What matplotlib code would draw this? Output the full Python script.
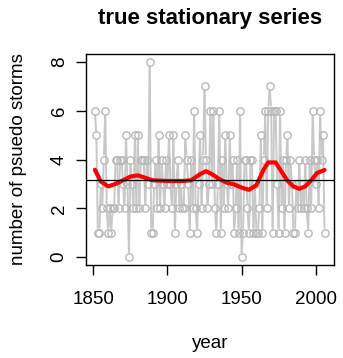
import numpy as np
import matplotlib
matplotlib.use("Agg")
import matplotlib.pyplot as plt

plt.rcParams['font.family'] = ['Liberation Sans', 'DejaVu Sans']

years = list(range(1851, 2007))
counts = [
    6, 5, 1, 1, 3, 2, 4, 6, 2, 1,   # 1851-1860
    2, 1, 2, 2, 4, 4, 2, 4, 4, 3,   # 1861-1870
    2, 5, 3, 0, 4, 3, 2, 5, 2, 5,   # 1871-1880
    2, 4, 4, 4, 2, 4, 3, 8, 1, 1,   # 1881-1890
    3, 4, 2, 5, 2, 4, 3, 2, 4, 3,   # 1891-1900
    5, 3, 2, 5, 1, 3, 4, 2, 3, 2,   # 1901-1910
    2, 5, 4, 3, 1, 4, 2, 6, 2, 1,   # 1911-1920
    3, 5, 2, 4, 7, 4, 2, 3, 6, 3,   # 1921-1930
    6, 2, 1, 3, 6, 1, 4, 2, 5, 3,   # 1931-1940
    2, 5, 3, 4, 1, 2, 4, 1, 6, 0,   # 1941-1950
    1, 4, 4, 2, 1, 4, 4, 1, 3, 1,   # 1951-1960
    1, 2, 5, 1, 4, 6, 2, 6, 7, 6,   # 1961-1970
    1, 6, 6, 3, 1, 6, 2, 4, 1, 4,   # 1971-1980
    5, 2, 4, 3, 1, 1, 3, 2, 4, 2,   # 1981-1990
    3, 2, 4, 2, 1, 4, 2, 6, 4, 3,   # 1991-2000
    4, 2, 6, 4, 5, 1,               # 2001-2006
]

smooth_years = [1851, 1855, 1860, 1865, 1870, 1875, 1880, 1885, 1890, 1900,
                1910, 1916, 1922, 1926, 1930, 1935, 1940, 1945, 1950, 1955,
                1960, 1965, 1968, 1973, 1977, 1981, 1985, 1989, 1993, 1997,
                2001, 2006]
smooth_vals = [3.58, 3.1, 2.9, 3.0, 3.15, 3.3, 3.35, 3.25, 3.15, 3.12,
               3.12, 3.15, 3.4, 3.52, 3.4, 3.2, 3.05, 2.98, 2.85, 2.76,
               2.95, 3.6, 3.88, 3.88, 3.5, 3.13, 2.9, 2.8, 2.9, 3.15,
               3.45, 3.57]

x_ticks = [1850, 1900, 1950, 2000]
y_ticks = [0, 2, 4, 6, 8]

W, H = 343, 358
fig = plt.figure(figsize=(W / 100, H / 100), dpi=100)
ax = fig.add_axes([85.7 / W, 1 - 265 / H, (333.7 - 85.7) / W, (265 - 54) / H])

xr = years[-1] - years[0]
ax.set_xlim(years[0] - 0.04 * xr, years[-1] + 0.04 * xr)
ax.set_ylim(-0.32, 8.32)

gray = '#C8C8C8'
# R type="b": segments with gaps around the points
fig.canvas.draw()
pts = ax.transData.transform(np.column_stack([years, counts]))
inv = ax.transData.inverted()
gap = 4.2  # pixels
for i in range(len(pts) - 1):
    p1, p2 = pts[i], pts[i + 1]
    d = p2 - p1
    L = np.hypot(*d)
    if L > 2 * gap:
        u = d / L
        a = inv.transform(p1 + gap * u)
        b = inv.transform(p2 - gap * u)
        ax.plot([a[0], b[0]], [a[1], b[1]], color=gray, lw=1.4,
                solid_capstyle='butt', zorder=2)
ax.plot(years, counts, linestyle='none', marker='o', markersize=5.3,
        markerfacecolor='none', markeredgecolor='#B8B8B8', markeredgewidth=1.0,
        zorder=3)

ax.plot(smooth_years, smooth_vals, color='red', lw=3.0, zorder=4,
        solid_capstyle='round')
ax.axhline(np.mean(counts), color='black', lw=0.9, zorder=5)

ax.set_xticks(x_ticks)
ax.set_yticks(y_ticks)
ax.set_yticklabels([str(v) for v in y_ticks], rotation=90, va='center')
ax.tick_params(axis='both', direction='out', length=7, width=1,
               labelsize=13.5, colors='black')
ax.tick_params(axis='x', pad=12)
ax.tick_params(axis='y', pad=6)
for s in ax.spines.values():
    s.set_linewidth(1.0)

ax.set_xlabel('year', fontsize=13.5)
ax.xaxis.set_label_coords(0.5, -0.33)
ax.set_ylabel('number of psuedo storms', fontsize=13.5)
ax.yaxis.set_label_coords(-0.235, 0.5)

ax.text(0.5, 1.17, 'true stationary series', transform=ax.transAxes,
        ha='center', va='center', fontsize=16, fontweight='bold')

fig.savefig('out.png', dpi=100)
